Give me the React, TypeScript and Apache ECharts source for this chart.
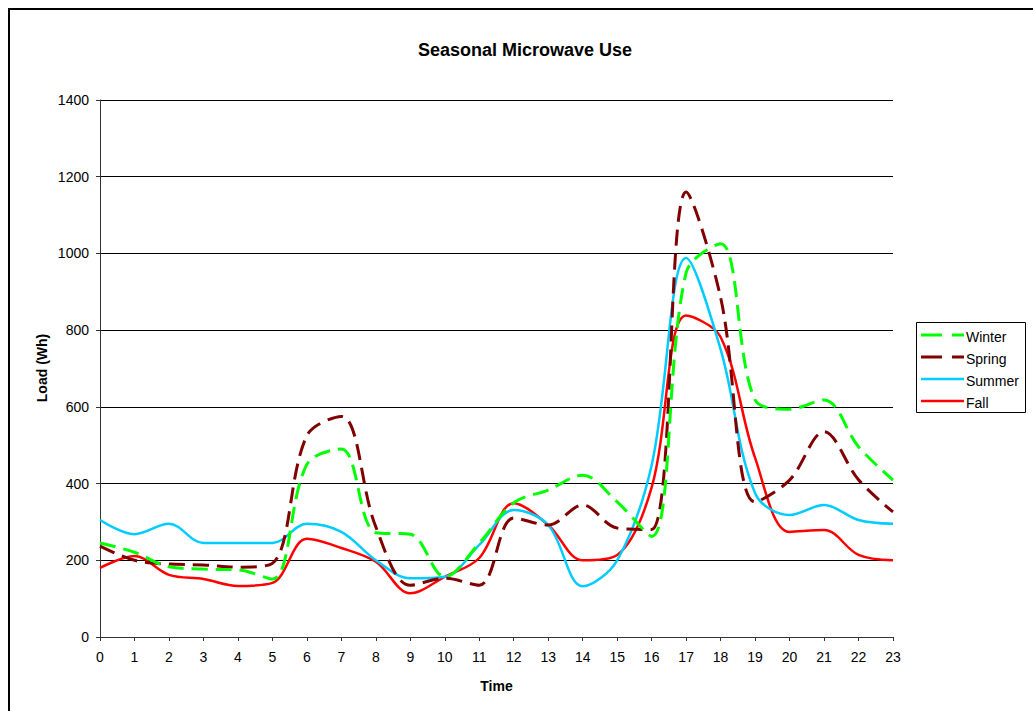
import React, { useEffect, useRef } from "react";
import * as echarts from "echarts";

const hours = [0, 1, 2, 3, 4, 5, 6, 7, 8, 9, 10, 11, 12, 13, 14, 15, 16, 17, 18, 19, 20, 21, 22, 23];
const winter = [245, 221, 183, 177, 175, 151, 450, 490, 272, 268, 157, 245, 350, 383, 422, 352, 262, 950, 1025, 618, 594, 618, 496, 409];
const spring = [237, 200, 190, 188, 182, 192, 525, 575, 287, 135, 153, 135, 310, 292, 344, 284, 280, 1160, 885, 352, 409, 535, 410, 326];
const summer = [305, 268, 295, 245, 245, 245, 295, 274, 200, 153, 157, 240, 331, 292, 132, 200, 448, 988, 750, 375, 318, 344, 305, 295];
const fall = [180, 211, 162, 151, 133, 141, 256, 232, 196, 114, 157, 206, 349, 292, 200, 214, 390, 838, 782, 467, 274, 279, 214, 200];
const yTicks = [0, 200, 400, 600, 800, 1000, 1200, 1400];

const seriesNames = ["Winter", "Spring", "Summer", "Fall"];
const seriesColors = ["#00FF00", "#800000", "#00CCFF", "#FF0000"];

const FONT = "Liberation Sans, Arial, sans-serif";

export default function App() {
  const ref = useRef<HTMLDivElement>(null);
  useEffect(() => {
    if (!ref.current) return;
    const chart = echarts.init(ref.current, null, { renderer: "svg" });
    const allData = [winter, spring, summer, fall];
    const styles = [
      { width: 3, type: [16, 8] as any },
      { width: 3, type: [16, 8] as any },
      { width: 2.5, type: "solid" as any },
      { width: 2.5, type: "solid" as any },
    ];
    const legendX = 921;
    const legendYs = [335, 357, 379, 401];
    const legendGraphics: any[] = [
      {
        type: "rect",
        shape: { x: 916.5, y: 322.5, width: 109, height: 90 },
        style: { fill: "#fff", stroke: "#000", lineWidth: 1 },
      },
    ];
    seriesNames.forEach((n, i) => {
      legendGraphics.push({
        type: "line",
        shape: { x1: legendX, y1: legendYs[i], x2: 964, y2: legendYs[i] },
        style: {
          stroke: seriesColors[i],
          lineWidth: styles[i].width,
          lineDash: i < 2 ? [21, 10] : null,
        },
      });
      legendGraphics.push({
        type: "text",
        x: 966,
        y: legendYs[i] + 2,
        style: {
          text: n,
          fill: "#000",
          font: `14px ${FONT}`,
          verticalAlign: "middle",
          align: "left",
        },
      });
    });

    chart.setOption({
      animation: false,
      backgroundColor: "#fff",
      title: {
        text: "Seasonal Microwave Use",
        left: 520,
        top: 36,
        textAlign: "center",
        textStyle: { fontFamily: FONT, fontSize: 18, fontWeight: "bold", color: "#000" },
      },
      grid: { left: 100, top: 100, width: 793, height: 537, containLabel: false },
      xAxis: {
        type: "value",
        min: 0,
        max: 23,
        interval: 1,
        axisLine: { lineStyle: { color: "#333", width: 1 } },
        axisTick: { show: true, length: 4, inside: false, lineStyle: { color: "#333" } },
        axisLabel: { fontFamily: FONT, fontSize: 14, color: "#000", margin: 13 },
        splitLine: { show: false },
      },
      yAxis: {
        type: "value",
        min: 0,
        max: 1400,
        interval: 200,
        axisLine: { show: true, lineStyle: { color: "#333", width: 1 } },
        axisTick: { show: true, length: 4, inside: false, lineStyle: { color: "#333" } },
        axisLabel: {
          fontFamily: FONT,
          fontSize: 14,
          color: "#000",
          margin: 11,
          formatter: (v: number) => (yTicks.includes(v) ? String(v) : ""),
        },
        splitLine: { show: true, lineStyle: { color: "#000", width: 1 } },
      },
      series: seriesNames.map((n, i) => ({
        name: n,
        type: "line",
        smooth: 0.35,
        showSymbol: false,
        symbol: "none",
        data: hours.map((h, j) => [h, allData[i][j]]),
        lineStyle: { color: seriesColors[i], width: styles[i].width, type: styles[i].type },
        itemStyle: { color: seriesColors[i] },
        z: 10 - i,
      })),
      graphic: [
        {
          type: "rect",
          shape: { x: 9, y: 9, width: 1040, height: 740 },
          style: { fill: "none", stroke: "#000", lineWidth: 2 },
          silent: true,
        },
        {
          type: "text",
          x: 496.5,
          y: 686,
          style: {
            text: "Time",
            fill: "#000",
            font: `bold 14px ${FONT}`,
            align: "center",
            verticalAlign: "middle",
          },
        },
        {
          type: "text",
          x: 42,
          y: 368,
          rotation: Math.PI / 2,
          style: {
            text: "Load (Wh)",
            fill: "#000",
            font: `bold 14px ${FONT}`,
            align: "center",
            verticalAlign: "middle",
          },
        },
        ...legendGraphics,
      ],
    });
    return () => chart.dispose();
  }, []);
  return (
    <div
      ref={ref}
      style={{ position: "absolute", left: 0, top: 0, width: 1033, height: 711 }}
    />
  );
}
